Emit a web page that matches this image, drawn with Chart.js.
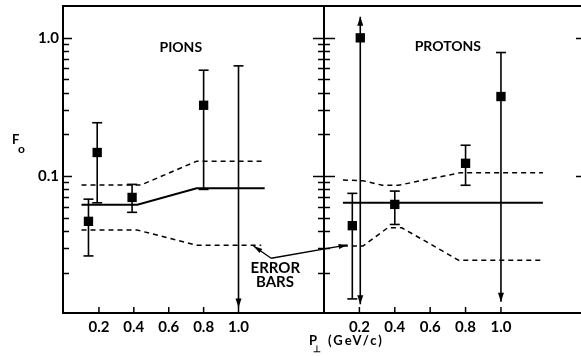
<!DOCTYPE html>
<html>
<head>
<meta charset="utf-8">
<script src="https://cdn.jsdelivr.net/npm/chart.js@4.4.1/dist/chart.umd.min.js"></script>
<style>
  html, body { margin: 0; padding: 0; background: #fff; overflow: hidden; width: 581px; height: 356px; }
  #wrap { position: relative; width: 581px; height: 356px; }
  canvas { position: absolute; top: 0; }
  #pions { left: 0; }
  #protons { left: 290px; }
</style>
</head>
<body>
<div id="wrap">
  <canvas id="pions" width="360" height="356" style="width:360px;height:356px"></canvas>
  <canvas id="protons" width="300" height="356" style="width:300px;height:356px"></canvas>
</div>
<script>
// ── Assi ────────────────────────────────────────────────────────────────────
const X_TICKS = [0.2, 0.4, 0.6, 0.8, 1.0];
const X_TICK_LABELS = ['0.2', '0.4', '0.6', '0.8', '1.0'];
const Y_TICKS = [0.1, 1.0];
const Y_TICK_LABELS = ['0.1', '1.0'];

// ── PIONS: punti misurati (F0 vs P⊥) ────────────────────────────────────────
const PION_PT    = [0.14, 0.19, 0.39, 0.80, 1.00];
const PION_F0    = [0.047, 0.148, 0.070, 0.325, null];
const PION_HI    = [0.068, 0.243, 0.087, 0.583, 0.627];
const PION_LO    = [0.0264, 0.064, 0.0546, 0.080, 0.0112];
const PION_LIMIT = ['', '', '', '', 'down'];

// curva + banda di errore (pions)
const PION_FIT_PT = [0.10, 0.42, 0.76, 1.15];
const PION_FIT    = [0.062, 0.062, 0.0815, 0.0815];
const PION_UP_PT  = [0.10, 0.44, 0.76, 1.14];
const PION_UP     = [0.086, 0.086, 0.128, 0.128];
const PION_DN_PT  = [0.10, 0.42, 0.76, 1.13];
const PION_DN     = [0.0406, 0.0406, 0.0316, 0.0316];

// ── PROTONS ─────────────────────────────────────────────────────────────────
const PROTON_PT    = [0.16, 0.205, 0.40, 0.80, 1.00];
const PROTON_F0    = [0.0437, 1.0, 0.0623, 0.1236, 0.376];
const PROTON_HI    = [0.0749, 1.42, 0.0778, 0.167, 0.783];
const PROTON_LO    = [0.0129, 0.0118, 0.0446, 0.0857, 0.0123];
const PROTON_LIMIT = ['', 'up down', '', '', 'down'];

const PROTON_FIT_PT = [0.107, 1.237];
const PROTON_FIT    = [0.064, 0.064];
const PROTON_UP_PT  = [0.107, 0.22, 0.33, 0.42, 0.77, 1.237];
const PROTON_UP     = [0.0935, 0.0925, 0.0857, 0.0857, 0.1057, 0.1057];
const PROTON_DN_PT  = [0.107, 0.22, 0.36, 0.44, 0.76, 1.237];
const PROTON_DN     = [0.0311, 0.0311, 0.0422, 0.0422, 0.0246, 0.0246];

const FONT = 'Lato';
const BLACK = '#000';

const toXY = (xs, ys) => xs.map((x, i) => ({ x, y: ys[i] })).filter(p => p.y != null);

// tacche minori della scala logaritmica
const LOG_TICKS = [];
[0.01, 0.1].forEach(d => { for (let k = 1; k <= 9; k++) LOG_TICKS.push(+(d * k).toPrecision(3)); });
LOG_TICKS.push(1.0);
const isMajor = v => Y_TICKS.includes(v);

function line(ctx, x1, y1, x2, y2) {
  ctx.beginPath(); ctx.moveTo(x1, y1); ctx.lineTo(x2, y2); ctx.stroke();
}

function arrowHead(ctx, x, tipY, dir, len = 9, half = 3) {
  ctx.beginPath();
  ctx.moveTo(x, tipY);
  ctx.lineTo(x - half, tipY - dir * len);
  ctx.lineTo(x + half, tipY - dir * len);
  ctx.closePath();
  ctx.fill();
}

// ── Barre d'errore (disegnate sotto ai dataset) ─────────────────────────────
function errorBars(xs, hi, lo, lim) {
  return {
    id: 'errorBars',
    beforeDatasetsDraw(chart) {
      const { ctx, scales: { x, y } } = chart;
      ctx.save();
      ctx.strokeStyle = BLACK; ctx.fillStyle = BLACK; ctx.lineWidth = 1.6;
      xs.forEach((v, i) => {
        const px = x.getPixelForValue(v);
        const top = y.getPixelForValue(hi[i]);
        const bot = y.getPixelForValue(lo[i]);
        line(ctx, px, top, px, bot);
        if (lim[i].includes('up')) arrowHead(ctx, px, top, -1);
        else line(ctx, px - 5, top, px + 5, top);
        if (lim[i].includes('down')) arrowHead(ctx, px, bot, 1);
        else line(ctx, px - 5, bot, px + 5, bot);
      });
      ctx.restore();
    },
  };
}

// ── Cornice, tacche e testi ─────────────────────────────────────────────────
function frame(side) {
  return {
    id: 'frame',
    afterDraw(chart) {
      const { ctx, chartArea: a, scales: { x, y } } = chart;
      ctx.save();
      ctx.strokeStyle = BLACK; ctx.fillStyle = BLACK;
      ctx.lineWidth = 2;
      line(ctx, a.left, a.top - 1, a.left, a.bottom + 1);
      line(ctx, a.left, a.top, a.right, a.top);
      line(ctx, a.left, a.bottom, a.right, a.bottom);
      if (side === 'right') line(ctx, a.right, a.top, a.right, a.bottom);

      ctx.lineWidth = 1.5;
      LOG_TICKS.forEach(v => {
        const py = Math.round(y.getPixelForValue(v)) + 0.5;
        if (py <= a.top + 1 || py >= a.bottom - 1) return;
        if (side === 'left') {
          line(ctx, a.left, py, a.left + (isMajor(v) ? 9 : 6), py);
        } else {
          const l = isMajor(v) ? 11 : 6;
          line(ctx, a.left - l, py, a.left + l, py);
          if (isMajor(v)) line(ctx, a.right - 6, py, a.right, py);
        }
      });
      X_TICKS.forEach(v => {
        const px = x.getPixelForValue(v);
        line(ctx, px, a.bottom, px, a.bottom - 6);
      });

      ctx.textAlign = 'center';
      ctx.textBaseline = 'middle';
      ctx.font = `bold 14px ${FONT}`;
      if (side === 'left') {
        ctx.fillText('PIONS', x.getPixelForValue(0.669), y.getPixelForValue(0.851));

        // etichetta asse Y: F con pedice o
        ctx.textAlign = 'left';
        ctx.textBaseline = 'alphabetic';
        ctx.font = `bold 13px ${FONT}`;
        ctx.fillText('F', 12, 144);
        ctx.font = `bold 12px ${FONT}`;
        ctx.fillText('o', 18, 153);

        // annotazione ERROR BARS con frecce
        ctx.textAlign = 'center';
        ctx.font = `bold 15px ${FONT}`;
        ctx.fillText('ERROR', x.getPixelForValue(1.211), y.getPixelForValue(0.0199));
        ctx.fillText('BARS', x.getPixelForValue(1.209), y.getPixelForValue(0.0158));
        const bx = x.getPixelForValue(1.187), by = y.getPixelForValue(0.0254);
        const tips = [[1.086, 0.0312], [1.625, 0.0317]];
        ctx.lineWidth = 1.3;
        tips.forEach(([tx, ty]) => {
          const px = x.getPixelForValue(tx), py = y.getPixelForValue(ty);
          line(ctx, bx, by, px, py);
          const ang = Math.atan2(py - by, px - bx);
          ctx.beginPath();
          ctx.moveTo(px, py);
          ctx.lineTo(px - 9 * Math.cos(ang) + 2.5 * Math.sin(ang), py - 9 * Math.sin(ang) - 2.5 * Math.cos(ang));
          ctx.lineTo(px - 9 * Math.cos(ang) - 2.5 * Math.sin(ang), py - 9 * Math.sin(ang) + 2.5 * Math.cos(ang));
          ctx.closePath();
          ctx.fill();
        });
      } else {
        ctx.fillText('PROTONS', x.getPixelForValue(0.70), y.getPixelForValue(0.873));

        // titolo asse X condiviso
        ctx.textAlign = 'left';
        ctx.textBaseline = 'alphabetic';
        ctx.font = `bold 13px ${FONT}`;
        const px0 = a.left - 15;
        ctx.fillText('P', px0, 345);
        ctx.font = `bold 9px ${FONT}`;
        ctx.fillText('⊥', px0 + 4, 352);
        ctx.font = `bold 13px ${FONT}`;
        ctx.letterSpacing = '2px';
        ctx.fillText('(GeV/c)', a.left + 4, 345);
      }
      ctx.restore();
    },
  };
}

function makeChart(id, side, cfg) {
  const ctx = document.getElementById(id).getContext('2d');
  return new Chart(ctx, {
    type: 'scatter',
    data: {
      datasets: [
        {
          data: toXY(cfg.pt, cfg.f0),
          pointStyle: 'rect',
          pointRadius: 6.6,
          pointBackgroundColor: BLACK,
          pointBorderWidth: 0,
          showLine: false,
        },
        { data: toXY(cfg.fitPt, cfg.fit), showLine: true, borderColor: BLACK, borderWidth: 2, pointRadius: 0 },
        { data: toXY(cfg.upPt, cfg.up), showLine: true, borderColor: BLACK, borderWidth: 1.5, borderDash: [5, 4], pointRadius: 0 },
        { data: toXY(cfg.dnPt, cfg.dn), showLine: true, borderColor: BLACK, borderWidth: 1.5, borderDash: [5, 4], pointRadius: 0 },
      ],
    },
    options: {
      responsive: false,
      animation: false,
      events: [],
      layout: { autoPadding: false, padding: { top: 6, right: cfg.padRight, left: 0, bottom: 0 } },
      plugins: { legend: { display: false }, tooltip: { enabled: false } },
      scales: {
        x: {
          type: 'linear',
          min: cfg.xMin,
          max: cfg.xMax,
          grid: { display: false, drawTicks: false },
          border: { display: false },
          afterBuildTicks: s => { s.ticks = X_TICKS.map(v => ({ value: v })); },
          afterFit: s => { s.height = 43; s.paddingLeft = 0; s.paddingRight = 0; },
          ticks: {
            autoSkip: false,
            maxRotation: 0,
            padding: 5,
            color: BLACK,
            font: { family: FONT, weight: 'bold', size: 15 },
            callback: (v, i) => X_TICK_LABELS[i],
          },
        },
        y: {
          type: 'logarithmic',
          min: 0.0102,
          max: 1.7,
          grid: { display: false, drawTicks: false },
          border: { display: false },
          afterBuildTicks: s => { s.ticks = Y_TICKS.map(v => ({ value: v })); },
          afterFit: s => { s.width = cfg.yWidth; s.paddingTop = 0; s.paddingBottom = 0; },
          ticks: {
            display: side === 'left',
            padding: 4,
            color: BLACK,
            font: { family: FONT, weight: 'bold', size: 15 },
            callback: (v, i) => Y_TICK_LABELS[i],
          },
        },
      },
    },
    plugins: [errorBars(cfg.pt, cfg.hi, cfg.lo, cfg.limit), frame(side)],
  });
}

makeChart('pions', 'left', {
  pt: PION_PT, f0: PION_F0, hi: PION_HI, lo: PION_LO, limit: PION_LIMIT,
  fitPt: PION_FIT_PT, fit: PION_FIT, upPt: PION_UP_PT, up: PION_UP, dnPt: PION_DN_PT, dn: PION_DN,
  xMin: -0.006, xMax: 1.49, yWidth: 63, padRight: 36,
});

makeChart('protons', 'right', {
  pt: PROTON_PT, f0: PROTON_F0, hi: PROTON_HI, lo: PROTON_LO, limit: PROTON_LIMIT,
  fitPt: PROTON_FIT_PT, fit: PROTON_FIT, upPt: PROTON_UP_PT, up: PROTON_UP, dnPt: PROTON_DN_PT, dn: PROTON_DN,
  xMin: 0, xMax: 1.458, yWidth: 34, padRight: 8,
});
</script>
</body>
</html>
